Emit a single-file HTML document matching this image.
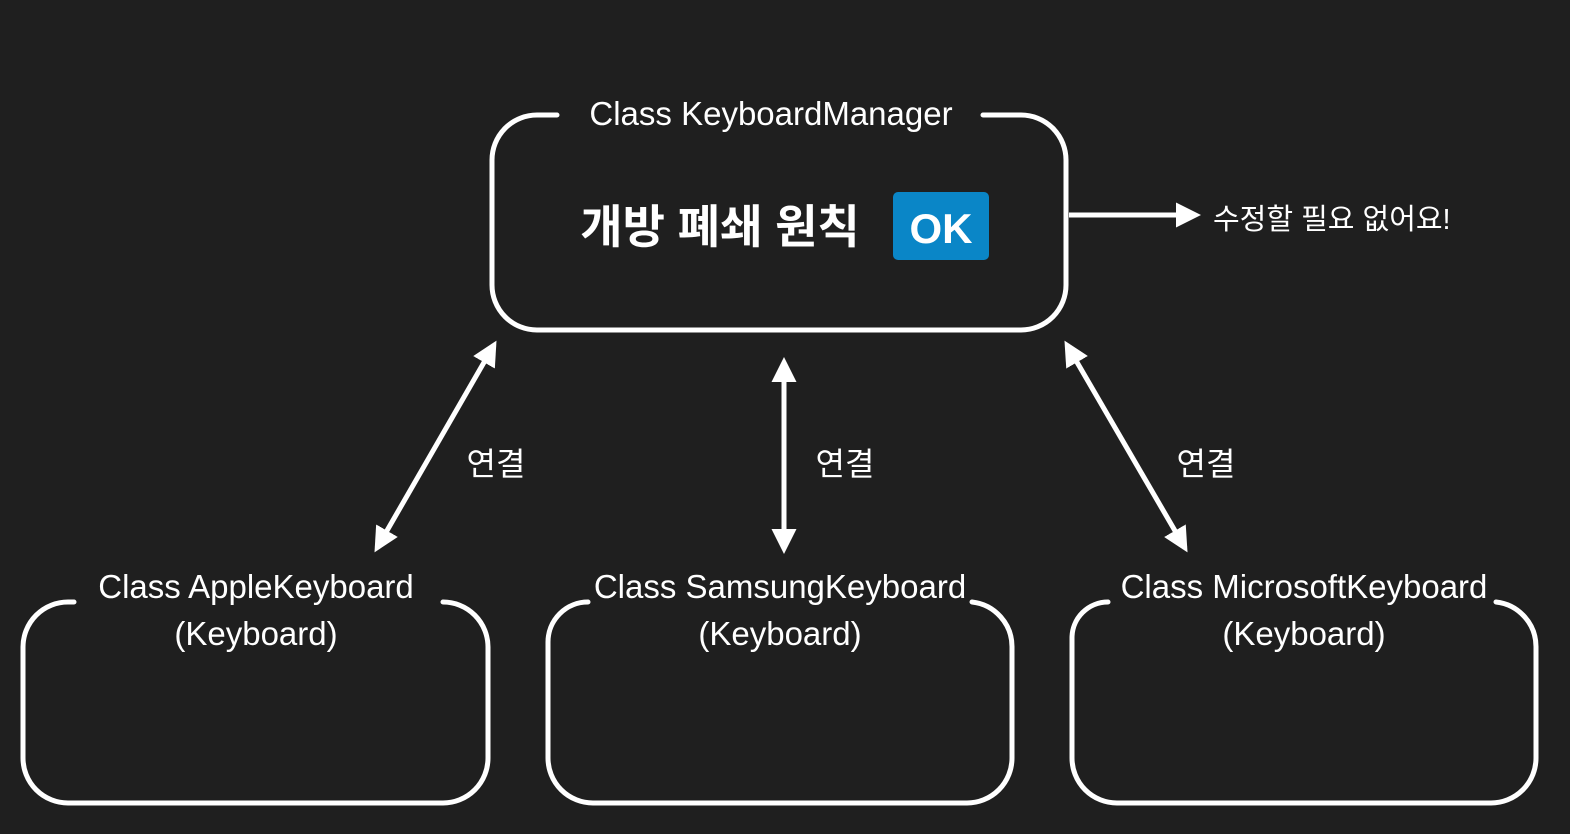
<!DOCTYPE html>
<html><head><meta charset="utf-8"><style>
html,body{margin:0;padding:0;background:#1f1f1f;}
svg{display:block}
text{font-family:"Liberation Sans","Noto Sans CJK KR",sans-serif;fill:#fff}
</style></head><body>
<svg width="1570" height="834" viewBox="0 0 1570 834" xmlns="http://www.w3.org/2000/svg">
<rect width="1570" height="834" fill="#1f1f1f"/>
<defs>
<marker id="ah" viewBox="0 0 10 10" refX="8" refY="5" markerWidth="5" markerHeight="5" orient="auto-start-reverse" markerUnits="strokeWidth">
<path d="M0,0 L10,5 L0,10 z" fill="#fff"/></marker>
</defs>
<g fill="none" stroke="#fff" stroke-width="5" stroke-linecap="round">
<path d="M557,115 H537 A45,45 0 0 0 492,160 V285 A45,45 0 0 0 537,330 H1021 A45,45 0 0 0 1066,285 V160 A45,45 0 0 0 1021,115 H983"/>
<path d="M74,602 H68 A45,45 0 0 0 23,647 V758 A45,45 0 0 0 68,803 H443 A45,45 0 0 0 488,758 V647 A45,45 0 0 0 443,602"/>
<path d="M588,602 A40,40 0 0 0 548,642 V758 A45,45 0 0 0 593,803 H967 A45,45 0 0 0 1012,758 V647 A45,45 0 0 0 972,602"/>
<path d="M1108,602 A36,36 0 0 0 1072,638 V758 A45,45 0 0 0 1117,803 H1491 A45,45 0 0 0 1536,758 V647 A45,45 0 0 0 1496,602"/>
</g>
<g stroke="#fff" stroke-width="5" fill="none">
<line x1="494" y1="345" x2="377" y2="548" marker-start="url(#ah)" marker-end="url(#ah)"/>
<line x1="784" y1="362" x2="784" y2="549" marker-start="url(#ah)" marker-end="url(#ah)"/>
<line x1="1067" y1="345" x2="1185" y2="548" marker-start="url(#ah)" marker-end="url(#ah)"/>
<line x1="1069" y1="215" x2="1196" y2="215" marker-end="url(#ah)"/>
</g>
<text x="771" y="125" font-size="33" text-anchor="middle">Class KeyboardManager</text>
<text x="720" y="243" font-size="46" font-weight="bold" text-anchor="middle">개방 폐쇄 원칙</text>
<rect x="893" y="192" width="96" height="68" rx="5" fill="#0a86c7"/>
<text x="941" y="243" font-size="42" font-weight="bold" text-anchor="middle">OK</text>
<text x="1213" y="229" font-size="29">수정할 필요 없어요!</text>
<text x="496" y="475" font-size="32" text-anchor="middle">연결</text>
<text x="845" y="475" font-size="32" text-anchor="middle">연결</text>
<text x="1206" y="475" font-size="32" text-anchor="middle">연결</text>
<text x="256" y="598" font-size="33" text-anchor="middle">Class AppleKeyboard</text>
<text x="256" y="645" font-size="33" text-anchor="middle">(Keyboard)</text>
<text x="780" y="598" font-size="33" text-anchor="middle">Class SamsungKeyboard</text>
<text x="780" y="645" font-size="33" text-anchor="middle">(Keyboard)</text>
<text x="1304" y="598" font-size="33" text-anchor="middle">Class MicrosoftKeyboard</text>
<text x="1304" y="645" font-size="33" text-anchor="middle">(Keyboard)</text>
</svg>
</body></html>
